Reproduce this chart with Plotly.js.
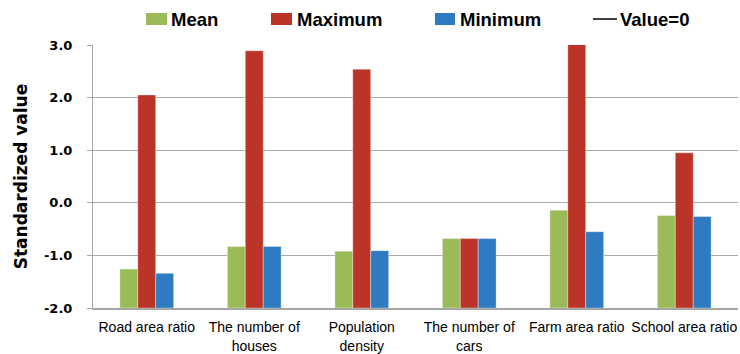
<!DOCTYPE html>
<html>
<head>
<meta charset="utf-8">
<script src="https://cdn.plot.ly/plotly-3.0.1.min.js"></script>
<style>
  html, body { margin: 0; padding: 0; background: #ffffff; }
  #chart { width: 740px; height: 354px; }
</style>
</head>
<body>
<div id="chart"></div>
<script>
// Indicator categories (two-line labels where the text wraps)
const categories = [
  'Road area ratio',
  'The number of<br>houses',
  'Population<br>density',
  'The number of<br>cars',
  'Farm area ratio',
  'School area ratio'
];

// Standardized values per indicator
const meanValues = [-1.26, -0.83, -0.92, -0.68, -0.14, -0.24];
const maxValues  = [ 2.05,  2.89,  2.54, -0.68,  3.10,  0.95];
const minValues  = [-1.34, -0.83, -0.91, -0.68, -0.55, -0.26];

// Axis ticks
const yTickValues = [-2, -1, 0, 1, 2, 3];
const yTickLabels = ['-2.0', '-1.0', '0.0', '1.0', '2.0', '3.0'];

// Legend entries
const legendNames = ['Mean', 'Maximum', 'Minimum', 'Value=0'];

const colors = { mean: '#9BBB59', max: '#BC3427', min: '#2E7BC2', zero: '#000000' };

// Bars rise from the bottom of the value axis (the category axis crosses at -2)
const axisFloor = yTickValues[0];
const fromFloor = vals => vals.map(v => v - axisFloor);

const W = 740, H = 354;
const margin = { l: 93, r: 2, t: 45, b: 46 };
const plotW = W - margin.l - margin.r;
const plotH = H - margin.t - margin.b;
const px2x = p => (p - margin.l) / plotW;
const px2y = p => (H - margin.b - p) / plotH;

const barStyle = c => ({ color: c, line: { color: 'rgba(255,255,255,0.35)', width: 1 } });

const makeBar = (i, vals, color) => ({
  type: 'bar', name: legendNames[i], x: categories,
  y: fromFloor(vals), base: axisFloor,
  customdata: vals, hovertemplate: '%{customdata:.2f}<extra></extra>',
  marker: barStyle(color)
});

const traces = [
  makeBar(0, meanValues, colors.mean),
  makeBar(1, maxValues, colors.max),
  makeBar(2, minValues, colors.min)
];

// Key drawn above the plot area
const legendFont = { family: '"Liberation Sans", Arial, sans-serif', size: 18.5, color: '#000000' };
const keyY = 19;
const swatches = [
  { x0: 146, x1: 167, color: colors.mean },
  { x0: 271, x1: 292, color: colors.max },
  { x0: 435, x1: 455, color: colors.min }
];
const shapes = swatches.map(s => ({
  type: 'rect', xref: 'paper', yref: 'paper',
  x0: px2x(s.x0), x1: px2x(s.x1), y0: px2y(keyY + 6), y1: px2y(keyY - 6),
  fillcolor: s.color, line: { width: 0 }
}));
shapes.push({
  type: 'line', xref: 'paper', yref: 'paper',
  x0: px2x(593), x1: px2x(617), y0: px2y(keyY), y1: px2y(keyY),
  line: { color: colors.zero, width: 1.5 }
});
const textXs = [170, 296, 459, 619];
const annotations = legendNames.map((name, i) => ({
  xref: 'paper', yref: 'paper', x: px2x(textXs[i]), y: px2y(keyY),
  xanchor: 'left', yanchor: 'middle', showarrow: false,
  text: '<b>' + name + '</b>', font: legendFont, borderpad: 0
}));

const layout = {
  width: W, height: H,
  margin: margin,
  paper_bgcolor: '#ffffff', plot_bgcolor: '#ffffff',
  barmode: 'group', bargap: 0.5, bargroupgap: 0,
  showlegend: false,
  font: { family: '"Liberation Sans", Arial, sans-serif', color: '#000000' },
  xaxis: {
    type: 'category',
    showgrid: false, zeroline: false,
    showline: true, linecolor: '#A6A6A6', linewidth: 1.5,
    ticks: '', tickangle: 0,
    tickfont: { family: '"Liberation Sans", Arial, sans-serif', size: 14, color: '#000000' },
    ticklabelstandoff: 6
  },
  yaxis: {
    range: [-2, 3],
    tickvals: yTickValues, ticktext: yTickLabels,
    showgrid: true, gridcolor: '#ABABAB', gridwidth: 1,
    zeroline: false,
    showline: true, linecolor: '#A6A6A6', linewidth: 1,
    ticks: 'outside', ticklen: 5, tickcolor: '#A6A6A6',
    tickfont: { family: '"DejaVu Sans", Verdana, sans-serif', size: 13, color: '#000000', weight: 'bold' },
    ticklabelstandoff: 12,
    title: { text: '<b>Standardized value</b>', font: { family: '"DejaVu Sans", Verdana, sans-serif', size: 17, color: '#000000' }, standoff: 12 }
  },
  shapes: shapes,
  annotations: annotations
};

Plotly.newPlot('chart', traces, layout, { displayModeBar: false, staticPlot: true });
</script>
</body>
</html>
